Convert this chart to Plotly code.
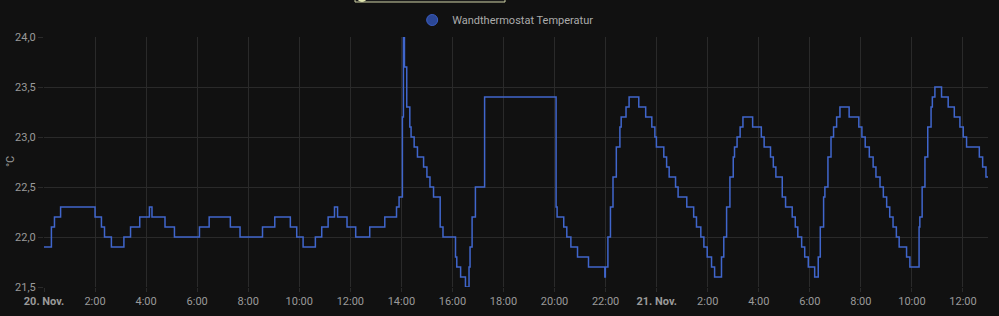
import plotly.graph_objects as go
from datetime import datetime, timedelta

# ---- data (hours since 20 Nov 00:00, temperature after step) ----
step_hours = [
    0.00, 0.29, 0.41, 0.65, 2.00, 2.25, 2.37, 2.64, 3.13, 3.39, 3.75, 4.13, 4.23, 4.74,
    5.11, 6.09, 6.47, 7.30, 7.68, 8.56, 9.04, 9.65, 9.90, 10.15, 10.63, 10.88, 11.13,
    11.38, 11.50, 11.87, 12.21, 12.76, 13.35, 13.81, 13.91, 14.04, 14.08, 14.12, 14.21,
    14.33, 14.38, 14.50, 14.63, 14.87, 15.00, 15.12, 15.26, 15.52, 15.63, 16.12, 16.17,
    16.32, 16.51, 16.65, 16.69, 16.77, 16.90, 17.26, 20.06, 20.10, 20.36, 20.48, 20.64,
    20.90, 21.33, 21.97, 21.99, 22.09, 22.19, 22.29, 22.42, 22.56, 22.61, 22.80, 22.92,
    23.30, 23.57, 23.81, 23.93, 23.99, 24.28, 24.39, 24.49, 24.74, 24.84, 25.18, 25.45,
    25.56, 25.73, 25.85, 25.98, 26.15, 26.27, 26.54, 26.63, 26.74, 26.87, 27.00, 27.05,
    27.15, 27.27, 27.38, 27.76, 28.10, 28.21, 28.46, 28.57, 28.67, 28.92, 29.05, 29.31,
    29.43, 29.53, 29.68, 29.80, 29.94, 30.19, 30.33, 30.41, 30.54, 30.59, 30.71, 30.83,
    30.93, 31.05, 31.18, 31.54, 31.92, 32.04, 32.17, 32.33, 32.48, 32.59, 32.75, 32.88,
    33.01, 33.13, 33.26, 33.39, 33.50, 33.79, 33.92, 34.28, 34.31, 34.40, 34.51, 34.62,
    34.75, 34.80, 34.90, 35.16, 35.42, 35.66, 35.88, 36.01, 36.14, 36.64, 36.77, 36.90,
    36.98,
]
temperature = [
    21.9, 22.1, 22.2, 22.3, 22.2, 22.1, 22.0, 21.9, 22.0, 22.1, 22.2, 22.3, 22.2, 22.1,
    22.0, 22.1, 22.2, 22.1, 22.0, 22.1, 22.2, 22.1, 22.0, 21.9, 22.0, 22.1, 22.2,
    22.3, 22.2, 22.1, 22.0, 22.1, 22.2, 22.3, 22.4, 23.2, 24.0, 23.7, 23.3,
    23.1, 23.0, 22.9, 22.8, 22.7, 22.6, 22.5, 22.4, 22.1, 22.0, 21.8, 21.7,
    21.6, 21.5, 21.7, 21.9, 22.2, 22.5, 23.4, 22.3, 22.2, 22.1, 22.0, 21.9,
    21.8, 21.7, 21.6, 21.7, 22.0, 22.3, 22.6, 22.9, 23.1, 23.2, 23.3, 23.4,
    23.3, 23.2, 23.1, 23.0, 22.9, 22.8, 22.7, 22.6, 22.5, 22.4, 22.3, 22.2,
    22.1, 22.0, 21.9, 21.8, 21.7, 21.6, 21.8, 22.0, 22.3, 22.6, 22.8, 22.9,
    23.0, 23.1, 23.2, 23.1, 23.0, 22.9, 22.8, 22.7, 22.6, 22.4, 22.3, 22.2,
    22.1, 22.0, 21.9, 21.8, 21.7, 21.6, 21.8, 22.1, 22.4, 22.5, 22.8, 23.0,
    23.1, 23.2, 23.3, 23.2, 23.1, 23.0, 22.9, 22.8, 22.7, 22.6, 22.5, 22.4,
    22.3, 22.2, 22.1, 22.0, 21.9, 21.8, 21.7, 22.1, 22.2, 22.5, 22.8, 23.1,
    23.3, 23.4, 23.5, 23.4, 23.3, 23.2, 23.1, 23.0, 22.9, 22.8, 22.7, 22.6,
    22.6,
]
series_name = "Wandthermostat Temperatur"
y_title = "°C"
tick_labels = ["<b>20. Nov.</b>", "2:00", "4:00", "6:00", "8:00", "10:00", "12:00",
               "14:00", "16:00", "18:00", "20:00", "22:00", "<b>21. Nov.</b>",
               "2:00", "4:00", "6:00", "8:00", "10:00", "12:00"]
y_ticks = [21.5, 22.0, 22.5, 23.0, 23.5, 24.0]

start = datetime(2023, 11, 20, 0, 0)
times = [start + timedelta(hours=h) for h in step_hours]
tick_vals = [start + timedelta(hours=2 * i) for i in range(len(tick_labels))]

BG = "#111111"
GRID = "#2a2a2a"
LINE = "#4066cc"

fig = go.Figure()
fig.add_trace(go.Scatter(
    x=times, y=temperature, mode="lines", line=dict(color=LINE, width=1.5, shape="hv"),
    showlegend=False, hoverinfo="skip"))
fig.add_trace(go.Scatter(
    x=[None], y=[None], mode="markers", name=series_name,
    marker=dict(size=11, color="#2b4796", line=dict(color="#3a5cc0", width=1))))

fig.update_layout(
    width=999, height=316,
    paper_bgcolor=BG, plot_bgcolor=BG,
    margin=dict(l=44, r=11, t=37, b=29, autoexpand=False),
    separators=",.",
    font=dict(family="Roboto", size=11, color="#9a9a9a"),
    showlegend=True,
    legend=dict(orientation="h", x=0.390, xanchor="left", y=(287 - 20) / 250,
                yanchor="middle",
                font=dict(size=11, color="#ababab"), bgcolor="rgba(0,0,0,0)",
                itemsizing="trace"),
    xaxis=dict(range=[start, start + timedelta(hours=36.98)], tickvals=tick_vals,
               ticktext=tick_labels, showgrid=True, gridcolor=GRID, gridwidth=1,
               zeroline=False, showline=False, ticks="outside", ticklen=4,
               tickcolor=GRID, tickfont=dict(size=11, color="#9a9a9a"), automargin=False),
    yaxis=dict(range=[21.5, 24.0], tickvals=y_ticks, tickformat=".1f",
               showgrid=True, gridcolor=GRID, gridwidth=1, zeroline=False,
               showline=False, ticks="outside", ticklen=5, tickcolor=GRID,
               tickfont=dict(size=11, color="#9a9a9a"), automargin=False),
)

fig.add_annotation(text=y_title, xref="paper", yref="paper", x=(10 - 44) / 944, y=0.5,
                   textangle=-90, showarrow=False, xanchor="center", yanchor="middle",
                   font=dict(size=11, color="#9a9a9a"))

# partial UI element at the top edge
fig.add_shape(type="rect", xref="paper", yref="paper",
              x0=(355 - 44) / 944, x1=(505 - 44) / 944,
              y0=(287 - 2) / 250, y1=(287 + 20) / 250,
              line=dict(color="#cfd2a6", width=1), fillcolor="#1a1a1a", layer="above")
fig.add_shape(type="circle", xref="paper", yref="paper",
              x0=(357 - 44) / 944, x1=(367 - 44) / 944,
              y0=(287 - 2) / 250, y1=(287 + 8) / 250,
              line=dict(color="#e2e6b0", width=0), fillcolor="#e2e6b0", layer="above")

fig.write_html("out.html")
